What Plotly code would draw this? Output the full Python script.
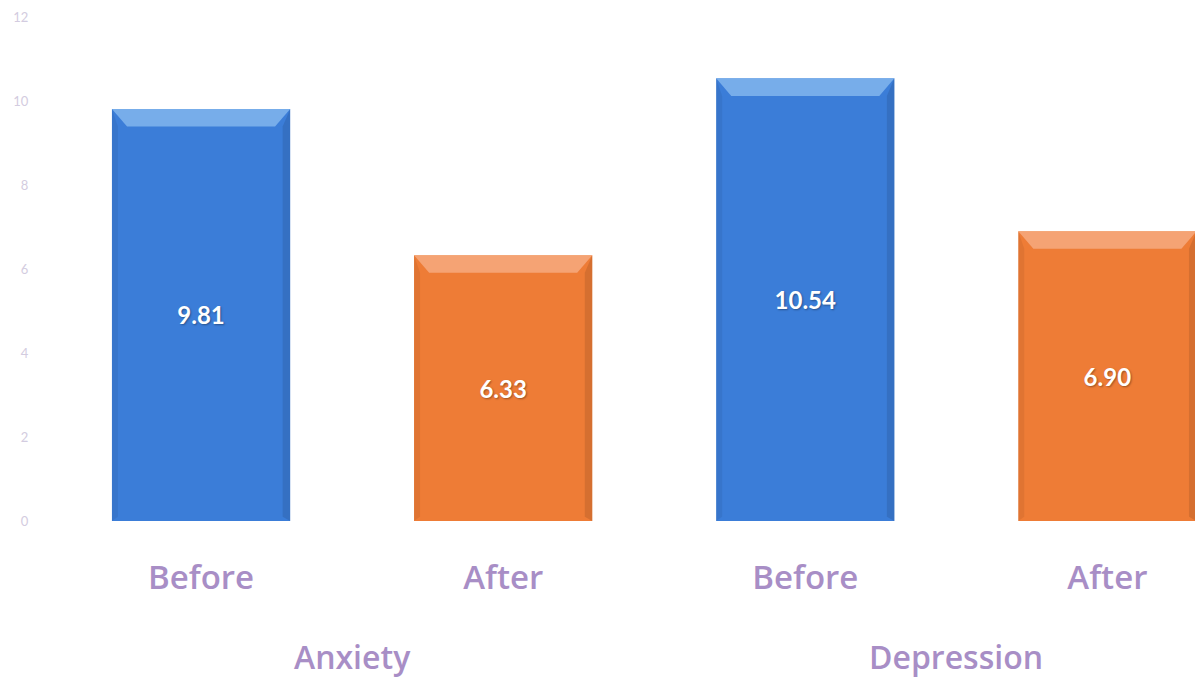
import plotly.graph_objects as go

# Scores before and after, for each measure
groups = ["Anxiety", "Depression"]
phases = ["Before", "After"]
anxiety = [9.81, 6.33]
depression = [10.54, 6.90]

blue = "#3b7dd8"
orange = "#ee7c36"
blue_hi = "#8cbdf0"
orange_hi = "#f7b08a"
label_purple = "#a88ec6"

values = anxiety + depression
positions = list(range(len(values)))
bar_colors = [blue, orange, blue, orange]
hi_colors = [blue_hi, orange_hi, blue_hi, orange_hi]
tick_text = phases * len(groups)
half_w = 0.295

fig = go.Figure()
fig.add_trace(go.Bar(
    x=positions,
    y=values,
    width=2 * half_w,
    marker=dict(color=bar_colors, line=dict(width=0)),
    text=[f"{v:.2f}" for v in values],
    textposition="inside",
    insidetextanchor="middle",
    textangle=0,
    textfont=dict(family="Lato", size=24, color="white", weight="bold",
                  shadow="1px 1px 2px rgba(0,0,0,0.35)"),
    cliponaxis=True,
    hoverinfo="skip",
))

# bevelled top edge and darker sides on each bar
shapes = []
for x, v, c_hi in zip(positions, values, hi_colors):
    bev_h = 0.42
    bev_w = 0.05
    shapes.append(dict(
        type="path", xref="x", yref="y", layer="above", line=dict(width=0),
        fillcolor=c_hi, opacity=0.75,
        path=(f"M{x - half_w},{v} L{x + half_w},{v} "
              f"L{x + half_w - bev_w},{v - bev_h} L{x - half_w + bev_w},{v - bev_h} Z"),
    ))
    shapes.append(dict(
        type="path", xref="x", yref="y", layer="above", line=dict(width=0),
        fillcolor="rgba(0,0,0,0.10)",
        path=(f"M{x + half_w},{v} L{x + half_w},0 "
              f"L{x + half_w - 0.025},0.1 L{x + half_w - 0.025},{v - bev_h} Z"),
    ))
    shapes.append(dict(
        type="path", xref="x", yref="y", layer="above", line=dict(width=0),
        fillcolor="rgba(0,0,0,0.06)",
        path=(f"M{x - half_w},{v} L{x - half_w},0 "
              f"L{x - half_w + 0.02},0.1 L{x - half_w + 0.02},{v - bev_h} Z"),
    ))

# group names centred under each pair of bars
annotations = []
for i, g in enumerate(groups):
    annotations.append(dict(
        x=2 * i + 0.5, xref="x", y=0, yref="paper", yanchor="middle",
        yshift=-135, text=g, showarrow=False,
        font=dict(family="Open Sans", size=32, color=label_purple, weight=600),
    ))

fig.update_layout(
    width=1195, height=678,
    margin=dict(l=50, r=0, t=17, b=157),
    paper_bgcolor="white", plot_bgcolor="white",
    showlegend=False,
    shapes=shapes,
    annotations=annotations,
    xaxis=dict(
        range=[-0.5, 3.29],
        tickvals=positions, ticktext=tick_text,
        showgrid=False, zeroline=False, showline=False,
        ticks="outside", ticklen=27, tickcolor="rgba(0,0,0,0)",
        tickfont=dict(family="Open Sans", size=33, color=label_purple, weight=600),
    ),
    yaxis=dict(
        range=[0, 12], dtick=2,
        showgrid=False, zeroline=False, showline=False,
        ticks="outside", ticklen=18, tickcolor="rgba(0,0,0,0)",
        tickfont=dict(family="Lato", size=13, color="#d3cce0"),
    ),
)

fig.write_html("out.html")
